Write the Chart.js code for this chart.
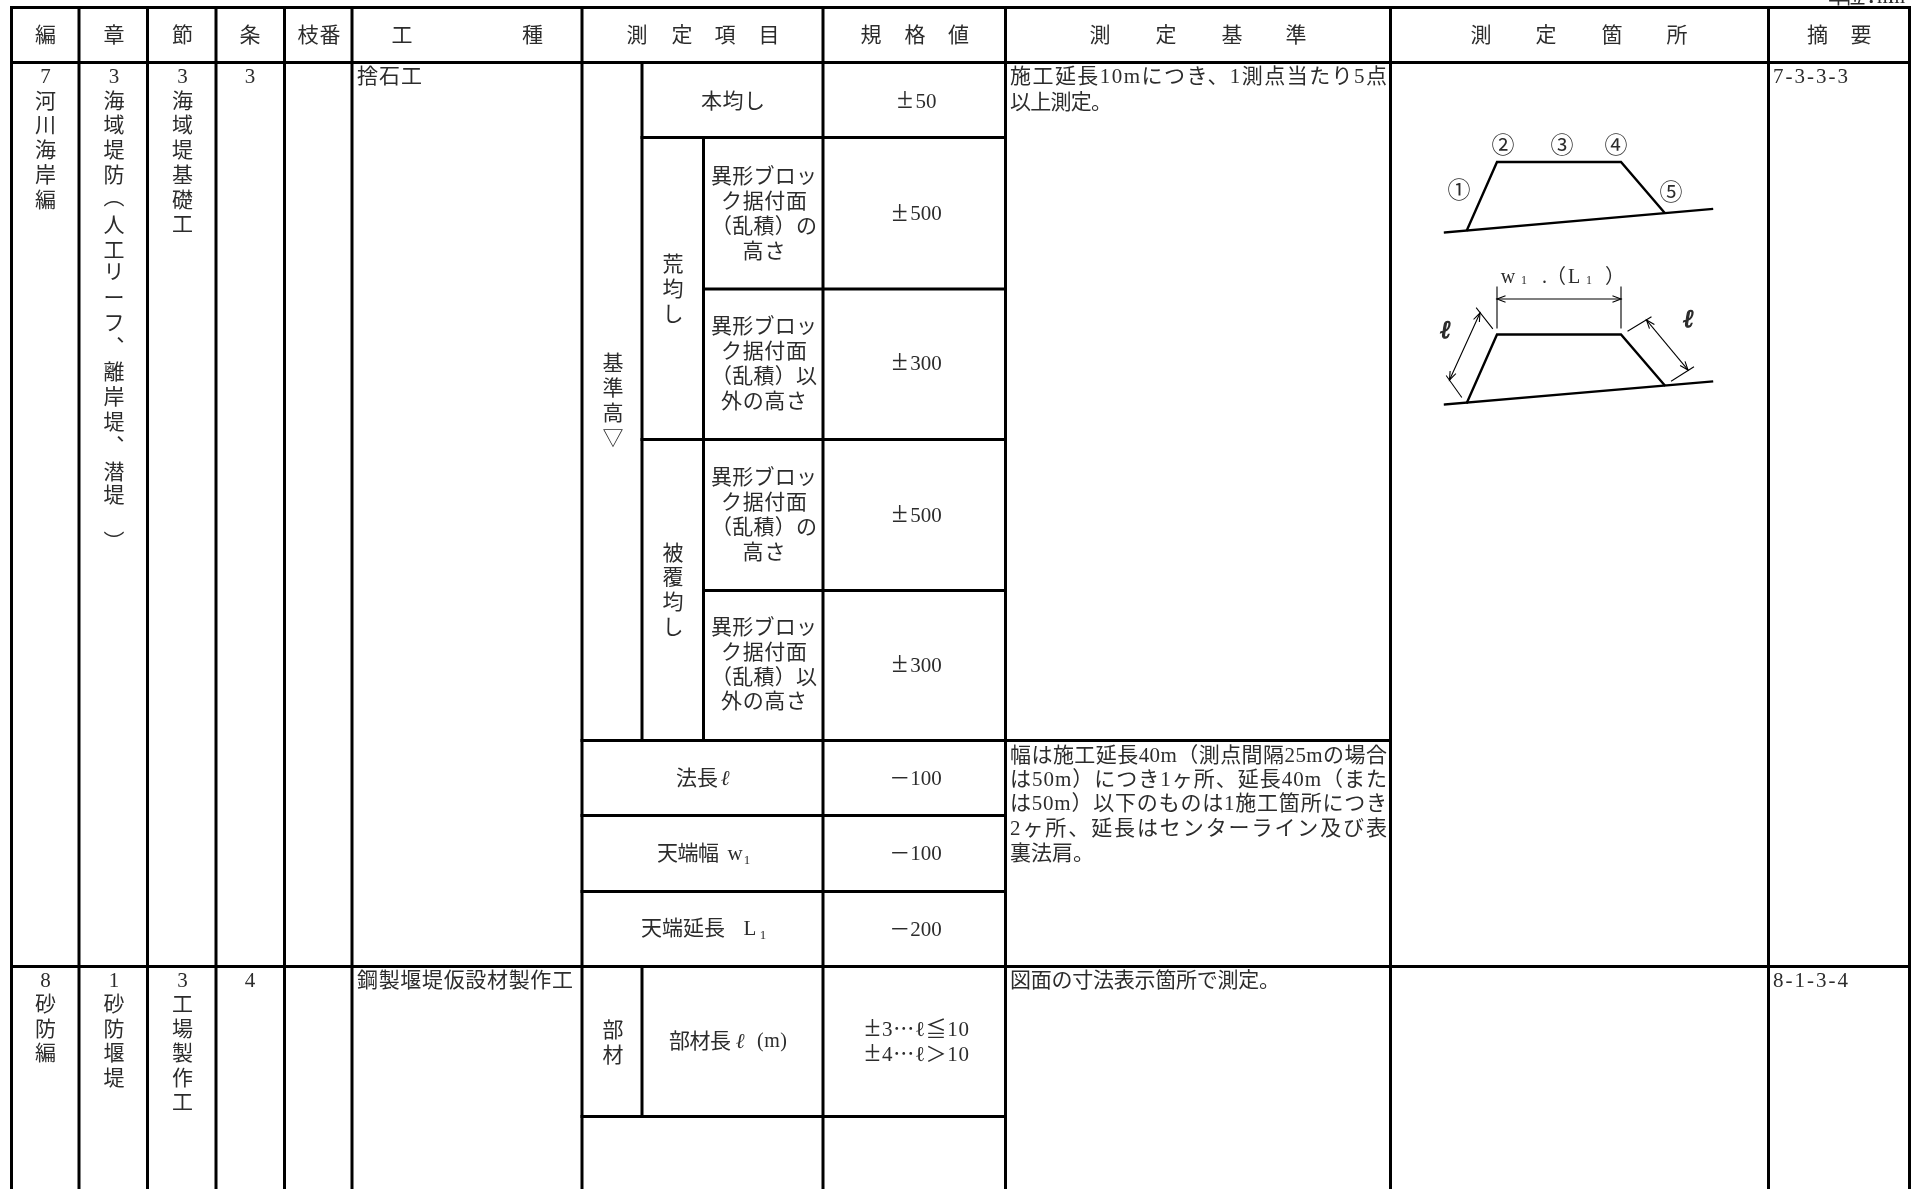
<!DOCTYPE html>
<html lang="ja">
<head>
<meta charset="UTF-8">
<title>測定基準表</title>
<script src="https://cdn.jsdelivr.net/npm/chart.js"></script>
<style>
    html, body { margin: 0; padding: 0; background: #fff; overflow: hidden; }
    #wrap { width: 1912px; height: 1189px; }
    canvas { display: block; }
</style>
</head>
<body>
<div id="wrap"><canvas id="sheet"></canvas></div>
<script>
// table grid, in picture units
const columnEdges = [11.5, 79, 147.5, 216, 284.5, 352, 582, 642, 703.5, 823, 1005.5, 1390.5, 1768.5, 1909.5];
const rowEdges = [7.5, 62.5, 137.5, 289, 439.5, 590.5, 740.5, 815.5, 891.5, 966.5, 1116.5, 1189];

// [column, first row, last row]
const verticalRules = [
    [0, 0, 11], [1, 0, 11], [2, 0, 11], [3, 0, 11], [4, 0, 11], [5, 0, 11], [6, 0, 11],
    [9, 0, 11], [10, 0, 11], [11, 0, 11], [12, 0, 11], [13, 0, 11],
    [7, 1, 6], [8, 2, 6], [7, 9, 10]
];
// [row, first column, last column]
const horizontalRules = [
    [0, 0, 13], [1, 0, 13], [9, 0, 13],
    [2, 7, 10], [3, 8, 10], [4, 7, 10], [5, 8, 10],
    [6, 6, 11], [7, 6, 10], [8, 6, 10], [10, 6, 10]
];

// header
const headerLabels = ['編', '章', '節', '条', '枝番', '工', '種', '測', '定', '項', '目', '規', '格', '値',
    '測', '定', '基', '準', '測', '定', '箇', '所', '摘', '要'];
const headerCenters = [45.5, 114, 182.5, 250, 319, 402, 532.5, 637, 682, 725, 769, 871, 915, 958.5,
    1100, 1166, 1232, 1296, 1481, 1546, 1612, 1677, 1817.5, 1861];

// left hand columns
const part7 = ['7', '河', '川', '海', '岸', '編'];
const chapter7 = ['3', '海', '域', '堤', '防', '︵', '人', '工', 'リ', 'ー', 'フ', '︑', '離', '岸', '堤', '︑', '潜', '堤', '︶'];
const chapter7Rows = [76.5, 101, 125.5, 150, 175, 197, 225, 250, 272, 298, 323, 347, 372, 397, 422, 446, 472, 495, 542];
const section7 = ['3', '海', '域', '堤', '基', '礎', '工'];
const article7 = ['3'];
const part8 = ['8', '砂', '防', '編'];
const chapter8 = ['1', '砂', '防', '堰', '堤'];
const section8 = ['3', '工', '場', '製', '作', '工'];
const article8 = ['4'];
const workTypes = ['捨石工', '鋼製堰堤仮設材製作工'];

// measured items
const itemGroups = [['基', '準', '高', '▽'], ['荒', '均', 'し'], ['被', '覆', '均', 'し'], ['部', '材']];
const blockLines = ['異形ブロッ', 'ク据付面', '（乱積）の', '高さ', '異形ブロッ', 'ク据付面', '（乱積）以', '外の高さ',
    '異形ブロッ', 'ク据付面', '（乱積）の', '高さ', '異形ブロッ', 'ク据付面', '（乱積）以', '外の高さ'];
const blockRows = [176.5, 201.5, 226.5, 251.5, 326.5, 351, 376, 401, 477.5, 502, 527, 552, 627.5, 652, 677, 701.5];

// tolerance column, sign and digits kept apart because the sign is set wide
const toleranceSigns = ['±', '±', '±', '±', '±', '－', '－', '－'];
const toleranceValues = ['50', '500', '300', '500', '300', '100', '100', '200'];
const toleranceRows = [101, 213.5, 363, 515, 665, 778, 853, 929];
const memberSigns = ['±', '±'];
const memberRanges = ['3⋯ℓ≦10', '4⋯ℓ＞10'];
const memberRows = [1029, 1054];

// criteria text
const criteria = ['施工延長10mにつき、1測点当たり5点', '以上測定。',
    '幅は施工延長40m（測点間隔25mの場合', 'は50m）につき1ヶ所、延長40m（また', 'は50m）以下のものは1施工箇所につき',
    '2ヶ所、延長はセンターライン及び表', '裏法肩。', '図面の寸法表示箇所で測定。'];
const criteriaRows = [76.5, 102, 755, 779, 803, 828, 853, 980];
const criteriaRight = [1387, 1112, 1387, 1387, 1387, 1387, 1094, 1280];
const remarks = ['7-3-3-3', '8-1-3-4'];

// sketch of the mound
const moundUpper = [[1467, 230], [1497, 162], [1621, 162], [1664, 212]];
const groundUpper = [[1445, 232.5], [1712, 209]];
const moundLower = [[1467, 402.5], [1497, 334.5], [1621, 334.5], [1664.5, 385]];
const groundLower = [[1445, 404.5], [1712, 381.5]];
const thinLines = [
    [[1497, 287], [1497, 328]], [[1621, 287], [1621, 328]],
    [[1476.5, 308], [1492.5, 328.5]], [[1446.5, 376], [1461.5, 397]],
    [[1628, 331], [1651, 317]], [[1671.5, 381], [1693.5, 367]]
];
const dimensionArrows = [
    [[1497, 299], [1621, 299]],
    [[1480, 313], [1449.5, 380]],
    [[1646.5, 320], [1688, 370]]
];
const circledMarks = ['①', '②', '③', '④', '⑤'];
const circledSpots = [[1459, 190.5], [1503, 146], [1562, 146], [1616, 146], [1671, 193]];

const SERIF = '"Liberation Serif", "Noto Sans CJK JP"';
const INK = '#2c2c2c';

function segment(points, width) {
    return {
        data: points.map(p => ({ x: p[0], y: p[1] })),
        showLine: true,
        borderColor: '#000',
        borderWidth: width,
        borderCapStyle: 'square',
        borderJoinStyle: 'miter',
        pointRadius: 0,
        tension: 0
    };
}

// two barbs back from the tip of a dimension line
function arrowHead(tip, tail) {
    const dx = tail[0] - tip[0], dy = tail[1] - tip[1];
    const len = Math.hypot(dx, dy);
    const ux = dx / len, uy = dy / len;
    const back = 8, side = 3;
    return [
        [tip[0] + ux * back - uy * side, tip[1] + uy * back + ux * side],
        tip,
        [tip[0] + ux * back + uy * side, tip[1] + uy * back - ux * side]
    ];
}

const datasets = [];
verticalRules.forEach(r => datasets.push(segment([[columnEdges[r[0]], rowEdges[r[1]]], [columnEdges[r[0]], rowEdges[r[2]]]], 3)));
horizontalRules.forEach(r => datasets.push(segment([[columnEdges[r[1]], rowEdges[r[0]]], [columnEdges[r[2]], rowEdges[r[0]]]], 3)));
[moundUpper, groundUpper, moundLower, groundLower].forEach(l => datasets.push(segment(l, 2.4)));
thinLines.forEach(l => datasets.push(segment(l, 1.1)));
dimensionArrows.forEach(a => {
    datasets.push(segment(a, 1.1));
    datasets.push(segment(arrowHead(a[0], a[1]), 1.1));
    datasets.push(segment(arrowHead(a[1], a[0]), 1.1));
});

const tablePrint = {
    id: 'tablePrint',
    afterDatasetsDraw(chart) {
        const { ctx, scales } = chart;

        // opts: size, width (stretch to this width), left (anchor at left), style, heavy
        function put(text, x, y, opts) {
            const o = opts || {};
            const size = o.size || 21;
            ctx.save();
            ctx.fillStyle = INK;
            ctx.strokeStyle = INK;
            ctx.font = (o.style || '') + ' ' + size + 'px ' + SERIF;
            ctx.textAlign = 'left';
            ctx.textBaseline = 'alphabetic';
            ctx.letterSpacing = '0px';
            let w = ctx.measureText(text).width;
            if (o.width && text.length > 1) {
                ctx.letterSpacing = ((o.width - w) / (text.length - 1)) + 'px';
                w = o.width;
            }
            const left = o.left ? x : x - w / 2;
            const px = scales.x.getPixelForValue(left);
            const py = scales.y.getPixelForValue(y + (o.drop === undefined ? size * 0.31 : o.drop));
            ctx.fillText(text, px, py);
            if (o.heavy) {
                ctx.lineWidth = o.heavy;
                ctx.strokeText(text, px, py);
            }
            ctx.restore();
        }
        function stack(chars, x, y, pitch) {
            chars.forEach((c, i) => put(c, x, y + i * pitch));
        }
        // the plus-minus glyph of the serif face is narrow, so it gets a larger size
        function sign(s, x, y) {
            if (s === '±') put(s, x, y, { size: 29, drop: 7 });
            else put(s, x, y);
        }

        headerLabels.forEach((t, i) => put(t, headerCenters[i], 35, t.length > 1 ? { width: 43 } : null));
        // cut off by the top of the page, as in the scan
        put('単位：mm', 1828, -3.5, { left: true, width: 77 });

        stack(part7, 45.5, 76.5, 24.7);
        chapter7.forEach((c, i) => put(c, 114, chapter7Rows[i]));
        stack(section7, 182.5, 76.5, 24.7);
        stack(article7, 250, 76.5, 24.7);
        stack(part8, 45.5, 980, 24.5);
        stack(chapter8, 114, 980, 24.5);
        stack(section8, 182.5, 980, 24.5);
        stack(article8, 250, 980, 24.5);
        put(workTypes[0], 357, 76.5, { left: true, width: 65 });
        put(workTypes[1], 357, 980, { left: true, width: 216 });

        stack(itemGroups[0], 613, 363, 25);
        stack(itemGroups[1], 673, 264, 25);
        stack(itemGroups[2], 673, 553, 24.7);
        stack(itemGroups[3], 613, 1030, 25);

        put('本均し', 733, 101.5, { width: 64 });
        blockLines.forEach((t, i) => {
            const full = t.length >= 4;
            put(t, 764, blockRows[i], full ? { width: t.length === 5 ? 106 : 86 } : { width: 43 });
        });

        put('法長', 697, 778, { width: 42 });
        put('ℓ', 725, 778, { style: 'italic' });
        put('天端幅', 688, 853, { width: 62 });
        put('w', 735, 853);
        put('1', 747, 860, { size: 13 });
        put('天端延長', 683, 928, { width: 84 });
        put('L', 750, 928);
        put('1', 763, 935, { size: 13 });
        put('部材長', 700, 1041, { width: 62 });
        put('ℓ', 740, 1041, { style: 'italic' });
        put('(m)', 772, 1041, { size: 20, width: 30 });

        toleranceValues.forEach((v, i) => {
            const total = 21 + v.length * 10.5;
            const start = 915.5 - total / 2;
            sign(toleranceSigns[i], start + 10.5, toleranceRows[i]);
            put(v, start + 21, toleranceRows[i], { left: true });
        });
        memberRanges.forEach((v, i) => {
            sign(memberSigns[i], 872.5, memberRows[i]);
            put(v, 882, memberRows[i], { left: true, width: 87 });
        });

        criteria.forEach((t, i) => put(t, 1010, criteriaRows[i], { left: true, width: criteriaRight[i] - 1010 }));
        put(remarks[0], 1773, 76.5, { left: true, width: 75 });
        put(remarks[1], 1773, 980, { left: true, width: 75 });

        circledMarks.forEach((t, i) => put(t, circledSpots[i][0], circledSpots[i][1], { size: 23 }));
        put('w', 1508, 277, { size: 20 });
        put('1', 1524, 280, { size: 12 });
        put('.', 1544.5, 277, { size: 20 });
        put('（', 1556, 277, { size: 20 });
        put('L', 1574, 277, { size: 20 });
        put('1', 1589, 280, { size: 12 });
        put('）', 1615, 277, { size: 20 });
        put('ℓ', 1445, 330, { size: 25, style: 'italic', heavy: 1.1 });
        put('ℓ', 1688, 319, { size: 25, style: 'italic', heavy: 1.1 });
    }
};

new Chart(document.getElementById('sheet').getContext('2d'), {
    type: 'scatter',
    data: { datasets: datasets },
    options: {
        responsive: true,
        maintainAspectRatio: false,
        animation: false,
        layout: { padding: 0 },
        plugins: { legend: { display: false }, tooltip: { enabled: false } },
        scales: {
            x: { type: 'linear', display: false, min: 0, max: 1912 },
            y: { type: 'linear', display: false, reverse: true, min: 0, max: 1189 }
        }
    },
    plugins: [tablePrint]
});
</script>
</body>
</html>
